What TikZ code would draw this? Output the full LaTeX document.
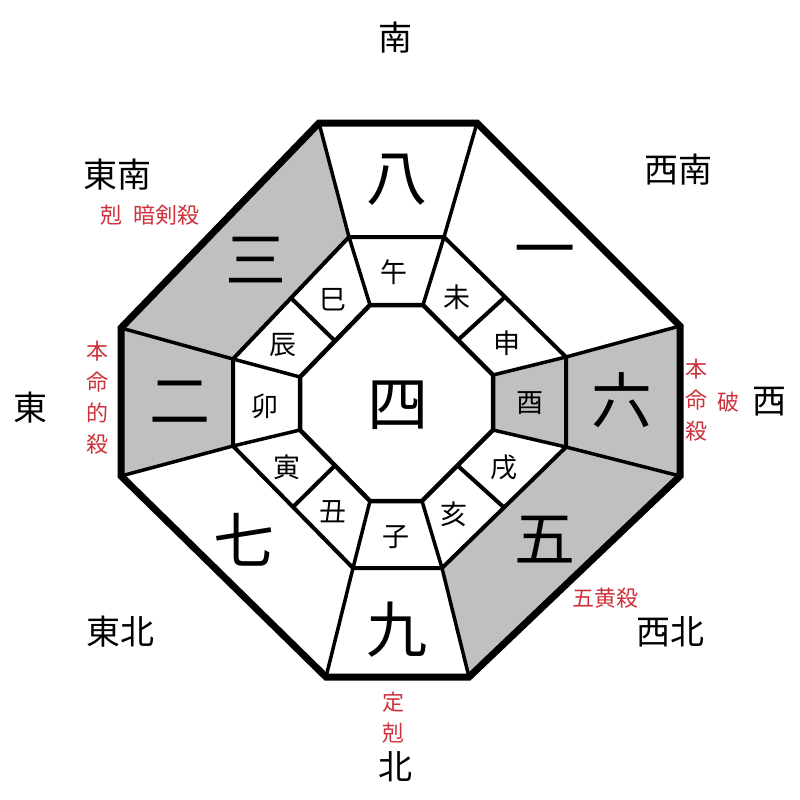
\documentclass[tikz,border=0pt]{standalone}
\usepackage{fontspec}
\setmainfont{Noto Sans CJK JP}
\usetikzlibrary{calc}
\definecolor{killred}{RGB}{205,50,60}
\definecolor{cellgray}{RGB}{192,192,192}
\newlength{\rimlinewidth}
\setlength{\rimlinewidth}{7pt}
\newlength{\ringlinewidth}
\setlength{\ringlinewidth}{4pt}

\begin{document}
\begin{tikzpicture}[x=1pt,y=-1pt,line join=miter,
        sector/.style={font=\fontsize{61}{61}\selectfont},
        branch/.style={font=\fontsize{27}{27}\selectfont},
        compass/.style={font=\fontsize{34}{34}\selectfont},
        kill/.style={text=killred,font=\fontsize{22}{31}\selectfont,align=center,inner sep=0pt},
        ]
        \useasboundingbox (0,0) rectangle (800,800);
        % outer rim
        \coordinate (o1) at (319,123);
        \coordinate (o2) at (477,123);
        \coordinate (o3) at (680,326);
        \coordinate (o4) at (680,476);
        \coordinate (o5) at (469,677);
        \coordinate (o6) at (326,677);
        \coordinate (o7) at (121,476);
        \coordinate (o8) at (121,328);
        % middle ring
        \coordinate (m1) at (349,237);
        \coordinate (m2) at (444,237);
        \coordinate (m3) at (566,357);
        \coordinate (m4) at (566,447);
        \coordinate (m5) at (442,568);
        \coordinate (m6) at (353,568);
        \coordinate (m7) at (233,446);
        \coordinate (m8) at (233,359);
        % inner ring
        \coordinate (i1) at (370,305);
        \coordinate (i2) at (423,305);
        \coordinate (i3) at (493,375);
        \coordinate (i4) at (493,430);
        \coordinate (i5) at (422,501);
        \coordinate (i6) at (370,501);
        \coordinate (i7) at (300,430);
        \coordinate (i8) at (300,377);
        % branch splits
        \coordinate (a1) at ($(i2)!.5!(i3)$);
        \coordinate (b1) at ($(m2)!.5!(m3)$);
        \coordinate (a2) at ($(i4)!.5!(i5)$);
        \coordinate (b2) at ($(m4)!.5!(m5)$);
        \coordinate (a3) at ($(i6)!.5!(i7)$);
        \coordinate (b3) at ($(m6)!.5!(m7)$);
        \coordinate (a4) at ($(i8)!.5!(i1)$);
        \coordinate (b4) at ($(m8)!.5!(m1)$);

        \fill[cellgray] (o8) -- (o1) -- (m1) -- (m8) -- cycle;
        \fill[cellgray] (o7) -- (o8) -- (m8) -- (m7) -- cycle;
        \fill[cellgray] (o3) -- (o4) -- (m4) -- (m3) -- cycle;
        \fill[cellgray] (o4) -- (o5) -- (m5) -- (m4) -- cycle;
        \fill[cellgray] (i3) -- (i4) -- (m4) -- (m3) -- cycle;

        \foreach \k in {1,...,8}
            \draw[line width=3.5pt] (i\k) -- (m\k) -- (o\k);
        \foreach \k in {1,...,4}
            \draw[line width=\ringlinewidth] (a\k) -- (b\k);
        \draw[line width=\ringlinewidth] (m1) -- (m2) -- (m3) -- (m4) -- (m5) -- (m6) -- (m7) -- (m8) -- cycle;
        \draw[line width=4.5pt] (i1) -- (i2) -- (i3) -- (i4) -- (i5) -- (i6) -- (i7) -- (i8) -- cycle;
        \draw[line width=\rimlinewidth] (o1) -- (o2) -- (o3) -- (o4) -- (o5) -- (o6) -- (o7) -- (o8) -- cycle;

        \node[sector] (centre) at (398,405) {四};
        \node[sector] (s8) at (397,180) {八};
        \node[sector] (s1) at (545,258) {一};
        \node[sector] (s6) at (622,400) {六};
        \node[sector] (s5) at (545,540) {五};
        \node[sector] (s9) at (397,630) {九};
        \node[sector] (s7) at (244,540) {七};
        \node[sector] (s2) at (180,402) {二};
        \node[sector] (s3) at (256,260) {三};

        \node[branch] (uma)   at (394,272) {午};
        \node[branch] (hitsuji) at (457,297) {未};
        \node[branch] (saru)  at (507,343) {申};
        \node[branch] (tori)  at (530,403) {酉};
        \node[branch] (inu)   at (504,467) {戌};
        \node[branch] (i)     at (454,514) {亥};
        \node[branch] (ne)    at (396,537) {子};
        \node[branch] (ushi)  at (333,512) {丑};
        \node[branch] (tora)  at (287,467) {寅};
        \node[branch] (u)     at (265,406) {卯};
        \node[branch] (tatsu) at (283,345) {辰};
        \node[branch] (mi)    at (333,300) {巳};

        \node[compass] (south)     at (395,38)  {南};
        \node[compass] (southeast) at (117,175) {東南};
        \node[compass] (southwest) at (678,170) {西南};
        \node[compass] (east)      at (30,408)  {東};
        \node[compass] (west)      at (769,402) {西};
        \node[compass] (northeast) at (120,632) {東北};
        \node[compass] (northwest) at (670,632) {西北};
        \node[compass] (north)     at (395,767) {北};

        \node[kill] (ankensatsu) at (150,215) {剋\hspace{12pt}暗剣殺};
        \node[kill] (honmeiteki) at (97,398)  {本\\命\\的\\殺};
        \node[kill] (honmei)     at (696,400) {本\\命\\殺};
        \node[kill] (ha)         at (728,402) {破};
        \node[kill] (gooh)       at (605,598) {五黄殺};
        \node[kill] (teikoku)    at (393,718) {定\\剋};
\end{tikzpicture}
\end{document}
